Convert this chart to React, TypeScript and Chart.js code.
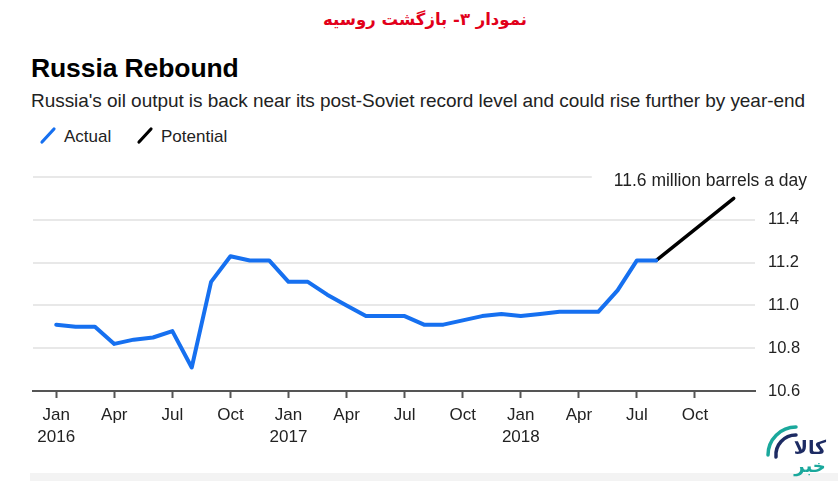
import React, { useEffect, useRef } from "react";
import { Chart, registerables } from "chart.js";

Chart.register(...registerables);

// ---- data (monthly, Jan 2016 = index 0) ----
const monthLabels: string[] = [
  "2016-01", "2016-02", "2016-03", "2016-04", "2016-05", "2016-06",
  "2016-07", "2016-08", "2016-09", "2016-10", "2016-11", "2016-12",
  "2017-01", "2017-02", "2017-03", "2017-04", "2017-05", "2017-06",
  "2017-07", "2017-08", "2017-09", "2017-10", "2017-11", "2017-12",
  "2018-01", "2018-02", "2018-03", "2018-04", "2018-05", "2018-06",
  "2018-07", "2018-08", "2018-09", "2018-10", "2018-11", "2018-12",
];

const actualValues: (number | null)[] = [
  10.91, 10.9, 10.9, 10.82, 10.84, 10.85, 10.88, 10.71, 11.11, 11.23, 11.21, 11.21,
  11.11, 11.11, 11.05, 11.0, 10.95, 10.95, 10.95, 10.91, 10.91, 10.93, 10.95, 10.96,
  10.95, 10.96, 10.97, 10.97, 10.97, 11.07, 11.21, 11.21,
  null, null, null, null,
];

const potentialValues: (number | null)[] = [
  null, null, null, null, null, null, null, null, null, null, null, null,
  null, null, null, null, null, null, null, null, null, null, null, null,
  null, null, null, null, null, null, null, 11.21, null, null, null, 11.5,
];

const xTickIndices: number[] = [0, 3, 6, 9, 12, 15, 18, 21, 24, 27, 30, 33];
const xTickLabels: (string | string[])[] = [
  ["Jan", "2016"], "Apr", "Jul", "Oct",
  ["Jan", "2017"], "Apr", "Jul", "Oct",
  ["Jan", "2018"], "Apr", "Jul", "Oct",
];

const yTickValues: number[] = [10.6, 10.8, 11.0, 11.2, 11.4, 11.6];
const annotationText = "11.6 million barrels a day";

const FONT = "'Liberation Sans', Arial, sans-serif";

const toPoints = (vals: (number | null)[]) =>
  vals.map((v, i) => ({ x: i, y: v }));

const annotationPlugin = {
  id: "annot",
  beforeDatasetsDraw(chart: any) {
    const { ctx, chartArea, scales } = chart;
    const y = scales.y.getPixelForValue(11.6);
    const right = chartArea.right + 52;
    ctx.save();
    ctx.font = `17.5px ${FONT}`;
    const w = ctx.measureText(annotationText).width;
    ctx.fillStyle = "#ffffff";
    ctx.fillRect(right - w - 22, y - 9, chartArea.right - (right - w - 22) + 2, 18);
    ctx.fillStyle = "#222222";
    ctx.textAlign = "right";
    ctx.textBaseline = "alphabetic";
    ctx.fillText(annotationText, right, y + 9);
    ctx.restore();
  },
};

function ChartCanvas() {
  const ref = useRef<HTMLCanvasElement | null>(null);
  useEffect(() => {
    if (!ref.current) return;
    const chart = new Chart(ref.current, {
      type: "line",
      data: {
        labels: monthLabels,
        datasets: [
          {
            label: "Actual",
            data: toPoints(actualValues) as any,
            borderColor: "#1670f0",
            borderWidth: 4,
            pointRadius: 0,
            tension: 0,
            borderJoinStyle: "round",
            borderCapStyle: "round",
          },
          {
            label: "Potential",
            data: toPoints(potentialValues) as any,
            borderColor: "#000000",
            borderWidth: 3.5,
            pointRadius: 0,
            spanGaps: true,
            borderCapStyle: "round",
          },
        ],
      },
      options: {
        animation: false,
        responsive: false,
        devicePixelRatio: 1,
        layout: { padding: { left: 33, top: 27, right: 0, bottom: 0 } },
        plugins: {
          legend: { display: false },
          tooltip: { enabled: false },
          title: { display: false },
        },
        scales: {
          x: {
            type: "linear",
            min: -1.2,
            max: 36.1,
            afterFit(scale: any) {
              scale.height = 90;
            },
            afterBuildTicks(scale: any) {
              scale.ticks = xTickIndices.map((v) => ({ value: v }));
            },
            ticks: {
              autoSkip: false,
              maxRotation: 0,
              padding: 6,
              color: "#222222",
              font: { family: FONT, size: 17, lineHeight: 1.3 },
              callback: (value: any) => {
                const i = xTickIndices.indexOf(Number(value));
                return i >= 0 ? xTickLabels[i] : "";
              },
            },
            grid: {
              drawOnChartArea: false,
              drawTicks: true,
              tickLength: 7,
              tickWidth: 2,
              tickColor: "#555555",
            },
            border: { display: true, color: "#555555", width: 2 },
          },
          y: {
            type: "linear",
            position: "right",
            min: 10.6,
            max: 11.6,
            afterFit(scale: any) {
              scale.width = 83;
            },
            afterBuildTicks(scale: any) {
              scale.ticks = yTickValues.map((v) => ({ value: v }));
            },
            ticks: {
              padding: 13,
              color: "#222222",
              font: { family: FONT, size: 16.5 },
              callback: (value: any) =>
                Number(value) >= 11.59 ? "" : Number(value).toFixed(1),
            },
            grid: {
              color: "#e8e8e8",
              lineWidth: 2,
              drawTicks: false,
            },
            border: { display: false },
          },
        },
      },
      plugins: [annotationPlugin],
    });
    return () => chart.destroy();
  }, []);
  return (
    <canvas
      ref={ref}
      width={838}
      height={331}
      style={{ position: "absolute", left: 0, top: 150, width: 838, height: 331 }}
    />
  );
}

function Slash({ x, color }: { x: number; color: string }) {
  return (
    <svg
      width={20}
      height={20}
      style={{ position: "absolute", left: x, top: 125 }}
    >
      <line
        x1={3}
        y1={17}
        x2={15}
        y2={4}
        stroke={color}
        strokeWidth={3.2}
        strokeLinecap="round"
      />
    </svg>
  );
}

export default function App() {
  useEffect(() => {
    document.body.style.margin = "0";
  }, []);
  return (
    <div
      style={{
        position: "relative",
        width: 838,
        height: 481,
        background: "#ffffff",
        overflow: "hidden",
        fontFamily: FONT,
      }}
    >
      <div
        dir="rtl"
        style={{
          position: "absolute",
          left: 6,
          width: 838,
          top: 8,
          textAlign: "center",
          color: "#e2001a",
          fontFamily: "'DejaVu Sans', sans-serif",
          fontWeight: "bold",
          fontSize: 16.5,
          lineHeight: "24px",
        }}
      >
        نمودار ۳- بازگشت روسیه
      </div>
      <div
        style={{
          position: "absolute",
          left: 31,
          top: 55,
          fontSize: 26.5,
          lineHeight: "26px",
          fontWeight: "bold",
          color: "#000000",
          letterSpacing: "-0.1px",
          whiteSpace: "nowrap",
        }}
      >
        Russia Rebound
      </div>
      <div
        style={{
          position: "absolute",
          left: 31,
          top: 91,
          fontSize: 19,
          lineHeight: "19px",
          color: "#222222",
          letterSpacing: "-0.05px",
          whiteSpace: "nowrap",
        }}
      >
        Russia's oil output is back near its post-Soviet record level and could rise further by year-end
      </div>
      <Slash x={39} color="#1670f0" />
      <div
        style={{
          position: "absolute",
          left: 64,
          top: 128,
          fontSize: 17,
          lineHeight: "17px",
          color: "#222222",
          whiteSpace: "nowrap",
        }}
      >
        Actual
      </div>
      <Slash x={136} color="#000000" />
      <div
        style={{
          position: "absolute",
          left: 161,
          top: 128,
          fontSize: 17,
          lineHeight: "17px",
          color: "#222222",
          whiteSpace: "nowrap",
        }}
      >
        Potential
      </div>
      <ChartCanvas />
      <div
        style={{
          position: "absolute",
          left: 30,
          top: 473,
          width: 808,
          height: 8,
          background: "#f3f3f3",
        }}
      />
      <svg
        width={40}
        height={40}
        style={{ position: "absolute", left: 762, top: 421 }}
      >
        <path d="M 6 34 A 28 28 0 0 1 34 6" fill="none" stroke="#1aa89c" strokeWidth={3.5} strokeLinecap="round" />
        <path d="M 14 36 A 20 20 0 0 1 34 14" fill="none" stroke="#1d2b63" strokeWidth={3.5} strokeLinecap="round" />
      </svg>
      <div
        dir="rtl"
        style={{
          position: "absolute",
          left: 790,
          width: 40,
          top: 436,
          textAlign: "center",
          fontFamily: "'DejaVu Sans', sans-serif",
          fontWeight: "bold",
          fontSize: 19,
          lineHeight: "22px",
          color: "#1d2b63",
        }}
      >
        کالا
      </div>
      <div
        dir="rtl"
        style={{
          position: "absolute",
          left: 790,
          width: 40,
          top: 455,
          textAlign: "center",
          fontFamily: "'DejaVu Sans', sans-serif",
          fontWeight: "bold",
          fontSize: 18,
          lineHeight: "22px",
          color: "#1aa89c",
        }}
      >
        خبر
      </div>
    </div>
  );
}
